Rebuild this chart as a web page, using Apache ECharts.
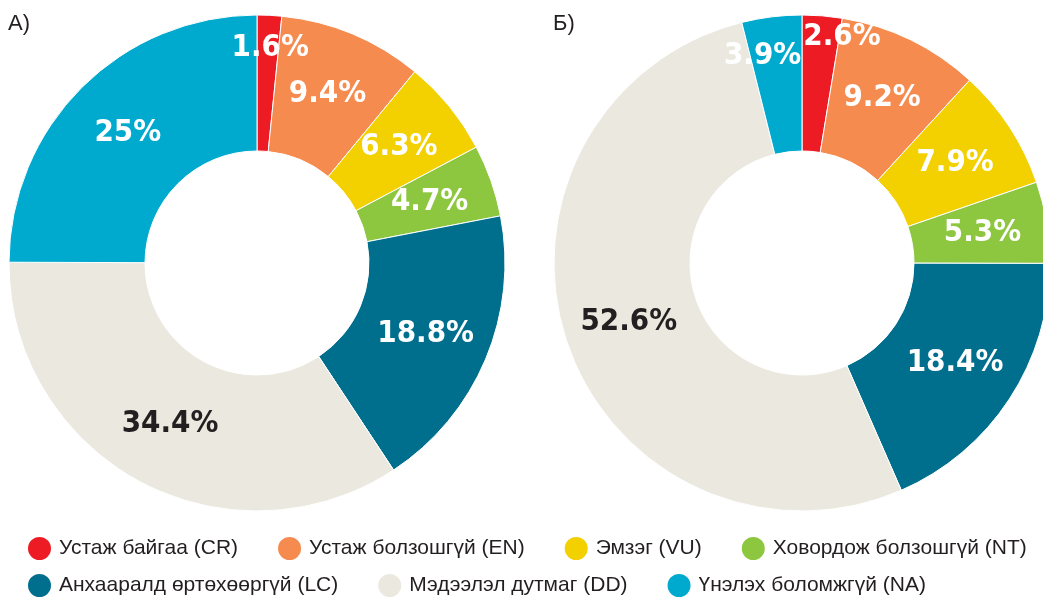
<!DOCTYPE html>
<html><head><meta charset="utf-8">
<script src="https://cdn.jsdelivr.net/npm/echarts@6/dist/echarts.min.js"></script>
<style>html,body{margin:0;padding:0;background:#fff}#c{width:1043px;height:598px}</style>
</head><body><div id="c"></div>
<script>
const categories = ['Устаж байгаа (CR)','Устаж болзошгүй (EN)','Эмзэг (VU)','Ховордож болзошгүй (NT)','Анхааралд өртөхөөргүй (LC)','Мэдээлэл дутмаг (DD)','Үнэлэх боломжгүй (NA)'];
const valuesA = [1.6, 9.4, 6.3, 4.7, 18.8, 34.4, 25];
const valuesB = [2.6, 9.2, 7.9, 5.3, 18.4, 52.6, 3.9];
const labelsA = ['1.6%','9.4%','6.3%','4.7%','18.8%','34.4%','25%'];
const labelsB = ['2.6%','9.2%','7.9%','5.3%','18.4%','52.6%','3.9%'];
const titles = ['А)','Б)'];

const colors = ['#ED1C24','#F68B50','#F3D000','#8DC63F','#006F8E','#EBE9DF','#00AACE'];
const labelFont = '"DejaVu Sans Condensed","Roboto Condensed",sans-serif';
const offA = {0:[4,-32]};
const offB = {0:[25,-44],6:[-17,-25]};

function buildData(vals, labels, off){
  return vals.map((v,i)=>{
    const o = {name: categories[i], value: v, label: {formatter: labels[i]}};
    if (i===5) o.label.color = '#231F20';
    if (off[i]) o.label.offset = off[i];
    return o;
  });
}
function pie(center, vals, labels, off){
  return {
    type:'pie', center:center, radius:[112,248], startAngle:90, clockwise:true,
    avoidLabelOverlap:false, animation:false,
    itemStyle:{borderColor:'#fff', borderWidth:1},
    label:{show:true, position:'inside', color:'#fff', fontFamily:labelFont, fontSize:31, fontWeight:'bold'},
    labelLine:{show:false},
    labelLayout:{hideOverlap:false},
    emphasis:{disabled:true},
    data: buildData(vals, labels, off)
  };
}
const chart = echarts.init(document.getElementById('c'), null, {renderer:'canvas'});
const legendCommon = {
  orient:'horizontal', icon:'circle', itemWidth:25, itemHeight:25, itemGap:38,
  textStyle:{fontFamily:'"Liberation Sans",Arial,sans-serif', fontSize:21, color:'#231F20', padding:[0,0,0,2]},
  selectedMode:false
};
chart.setOption({
  color: colors,
  title:[
    {text:titles[0], left:3, top:8, textStyle:{fontFamily:'"Liberation Sans",Arial,sans-serif', fontSize:22, fontWeight:'normal', color:'#231F20'}},
    {text:titles[1], left:548, top:8, textStyle:{fontFamily:'"Liberation Sans",Arial,sans-serif', fontSize:22, fontWeight:'normal', color:'#231F20'}}
  ],
  legend:[
    Object.assign({}, legendCommon, {left:21, top:530, data:categories.slice(0,4)}),
    Object.assign({}, legendCommon, {left:21, top:567, data:categories.slice(4)})
  ],
  series:[
    pie([257,263], valuesA, labelsA, offA),
    pie([802,263], valuesB, labelsB, offB)
  ]
});
</script></body></html>
